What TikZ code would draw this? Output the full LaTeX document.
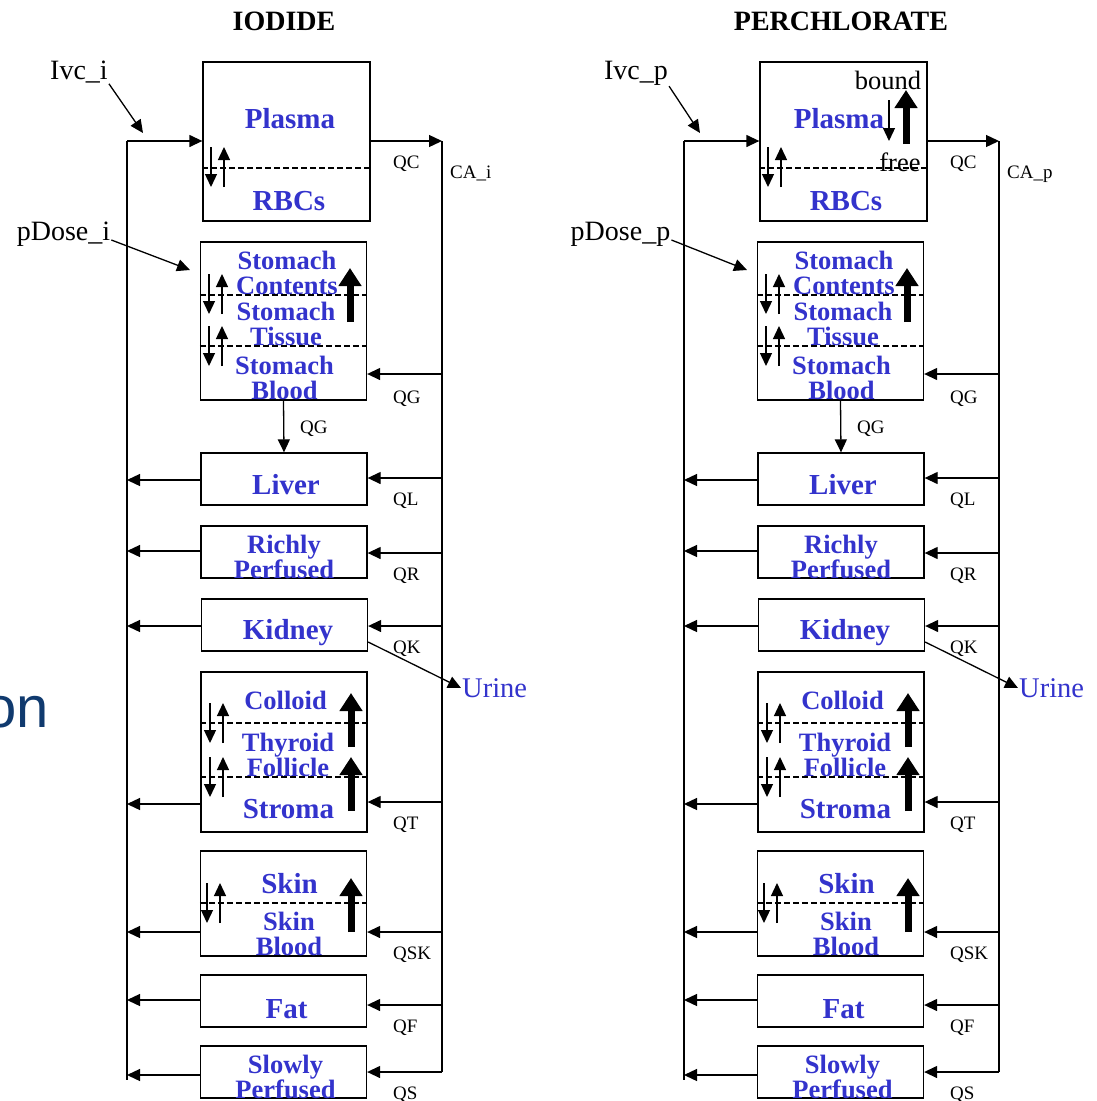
\documentclass[tikz,border=0pt]{standalone}
\usepackage{fontspec}
\setmainfont{Liberation Serif}
\newfontfamily\slidefont{Liberation Sans}
\usetikzlibrary{arrows.meta}
\definecolor{organblue}{RGB}{51,51,204}
\definecolor{slidenavy}{RGB}{16,58,110}

\begin{document}
\begin{tikzpicture}[
x=1pt, y=-1pt,
every node/.style={inner sep=1pt},
organ/.style={draw, line width=1.3pt, minimum width=166pt, inner sep=0pt},
lay/.style={text=organblue, font=\fontsize{29pt}{29pt}\selectfont\bfseries, anchor=base},
lays/.style={text=organblue, font=\fontsize{26.5pt}{25pt}\selectfont\bfseries, align=center},
flowlbl/.style={font=\fontsize{19pt}{19pt}\selectfont, anchor=base west},
inlbl/.style={font=\fontsize{28pt}{28pt}\selectfont, anchor=base},
flow/.style={line width=1.3pt, -{Triangle[length=13pt,width=12pt]}},
pump/.style={line width=7pt, -{Triangle[length=18pt,width=22pt]}},
layer/.style={line width=1.2pt, dash pattern=on 6pt off 3pt}
]

\useasboundingbox (0,0) rectangle (1096,1101);
\clip (0,0) rectangle (1096,1101);

% leftover word from the slide
\node[font=\slidefont\fontsize{58pt}{58pt}\selectfont, text=slidenavy,
      anchor=base east, inner sep=0pt] (slideword) at (49,727) {on};

\foreach \dx/\kind/\ttl/\plx in {0/i/IODIDE/290, 557/p/PERCHLORATE/282} {
\begin{scope}[xshift=\dx pt]

\node[font=\fontsize{28pt}{28pt}\selectfont\bfseries, anchor=base] (title\kind) at (284,30) {\ttl};

% compartments
\node[organ, minimum width=167pt, minimum height=159pt] (plasma\kind) at (286.5,141.5) {};
\node[organ, minimum height=158pt] (stomach\kind) at (283.5,321) {};
\node[organ, minimum height=52pt] (liver\kind) at (284,479) {};
\node[organ, minimum height=52pt] (rich\kind) at (284,552) {};
\node[organ, minimum height=52pt] (kidney\kind) at (284.5,625) {};
\node[organ, minimum height=160pt] (thyroid\kind) at (284,752) {};
\node[organ, minimum height=105pt] (skin\kind) at (283.5,903.5) {};
\node[organ, minimum height=52pt] (fat\kind) at (283.5,1001) {};
\node[organ, minimum height=52pt] (slow\kind) at (283.5,1072) {};

% compartment names
\node[lay] (plasmaT\kind) at (\plx,128) {Plasma};
\node[lay] (rbc\kind) at (289,210) {RBCs};
\node[lays] (contents\kind) at (287,272.5) {Stomach\\Contents};
\node[lays] (tissue\kind) at (286,324) {Stomach\\Tissue};
\node[lays] (sblood\kind) at (284.5,377.5) {Stomach\\Blood};
\node[lay] (liverT\kind) at (286,494) {Liver};
\node[lays] (richT\kind) at (284,557) {Richly\\Perfused};
\node[lay] (kidneyT\kind) at (288,639) {Kidney};
\node[lays, anchor=base] (colloid\kind) at (285.5,709) {Colloid};
\node[lays] (follicle\kind) at (288,755) {Thyroid\\Follicle};
\node[lay] (stroma\kind) at (288.5,818) {Stroma};
\node[lay] (skinT\kind) at (289.5,893) {Skin};
\node[lays] (skinB\kind) at (289,934) {Skin\\Blood};
\node[lay] (fatT\kind) at (286.5,1018) {Fat};
\node[lays] (slowT\kind) at (285.5,1077) {Slowly\\Perfused};

% layers inside compartments
\draw[layer] (plasma\kind.west |- 0,168) -- (plasma\kind.east |- 0,168);
\draw[layer] (stomach\kind.west |- 0,295) -- (stomach\kind.east |- 0,295);
\draw[layer] (stomach\kind.west |- 0,346) -- (stomach\kind.east |- 0,346);
\draw[layer] (thyroid\kind.west |- 0,723) -- (thyroid\kind.east |- 0,723);
\draw[layer] (thyroid\kind.west |- 0,777) -- (thyroid\kind.east |- 0,777);
\draw[layer] (skin\kind.west |- 0,903) -- (skin\kind.east |- 0,903);

\foreach \ex/\ey in {211/147, 209/274, 209/326, 210/703, 210/757, 207/883} {
  \draw[flow] (\ex,\ey) -- (\ex,\ey+40);
  \draw[flow] (\ex+13,\ey+40) -- (\ex+13,\ey);
}
\foreach \ux/\ua/\ub in {350/322/268, 351/747/693, 351/811/757, 351/932/878} {
  \draw[pump] (\ux,\ua) -- (\ux,\ub);
}

% venous and arterial blood
\coordinate (venT\kind) at (127,141);
\coordinate (venB\kind) at (127,1080);
\coordinate (artT\kind) at (442,141);
\coordinate (artB\kind) at (442,1072);
\draw[line width=1.3pt] (venT\kind) -- (venB\kind);
\draw[line width=1.3pt] (artT\kind) -- (artB\kind);
\draw[flow] (venT\kind) -- (plasma\kind.west |- venT\kind);
\draw[flow] (plasma\kind.east |- artT\kind) -- (artT\kind);
\node[flowlbl] (qc\kind) at (392,168) {QC};
\node[flowlbl] (ca\kind) at (449,178) {CA\_\kind};

\draw[flow] (artT\kind |- 0,374) -- (stomach\kind.east |- 0,374);
\node[flowlbl] (qstom\kind) at (392,403) {QG};
\draw[flow] (stomach\kind.south) -- (liver\kind.north);
\node[flowlbl] (qgut\kind) at (299,433) {QG};

\foreach \org/\yo/\yi/\flw in {liver/480/478/QL, rich/551/553/QR, kidney/626/626/QK,
    thyroid/804/802/QT, skin/932/932/QSK, fat/1000/1005/QF, slow/1075/1072/QS} {
  \draw[flow] (\org\kind.west |- 0,\yo) -- (venT\kind |- 0,\yo);
  \draw[flow] (artT\kind |- 0,\yi) -- (\org\kind.east |- 0,\yi);
  \node[flowlbl] (q\org\kind) at (392,\yi+27) {\flw};
}

% inputs and urine
\node[inlbl] (ivc\kind) at (79,79) {Ivc\_\kind};
\coordinate (ivcTip\kind) at (143,133);
\draw[flow] (ivc\kind.south east) -- (ivcTip\kind);
\node[inlbl] (pdose\kind) at (63.5,240) {pDose\_\kind};
\coordinate (pdoseTip\kind) at (190,270);
\draw[flow] (pdose\kind.base east) -- (pdoseTip\kind);
\node[inlbl, anchor=west, text=organblue, font=\fontsize{28.5pt}{28.5pt}\selectfont]
  (urine\kind) at (461,688) {Urine};
\draw[flow] (kidney\kind.east |- 0,642) -- (urine\kind.west);

\end{scope}
}

% plasma binding, perchlorate only
\begin{scope}[xshift=557pt]
\node[inlbl, font=\fontsize{26.5pt}{26.5pt}\selectfont] (bound) at (331,89) {bound};
\node[inlbl, font=\fontsize{26.5pt}{26.5pt}\selectfont] (free) at (343,171) {free};
\draw[flow] (332,100) -- (332,141);
\draw[pump] (349,144) -- (349,90);
\end{scope}

\end{tikzpicture}
\end{document}
